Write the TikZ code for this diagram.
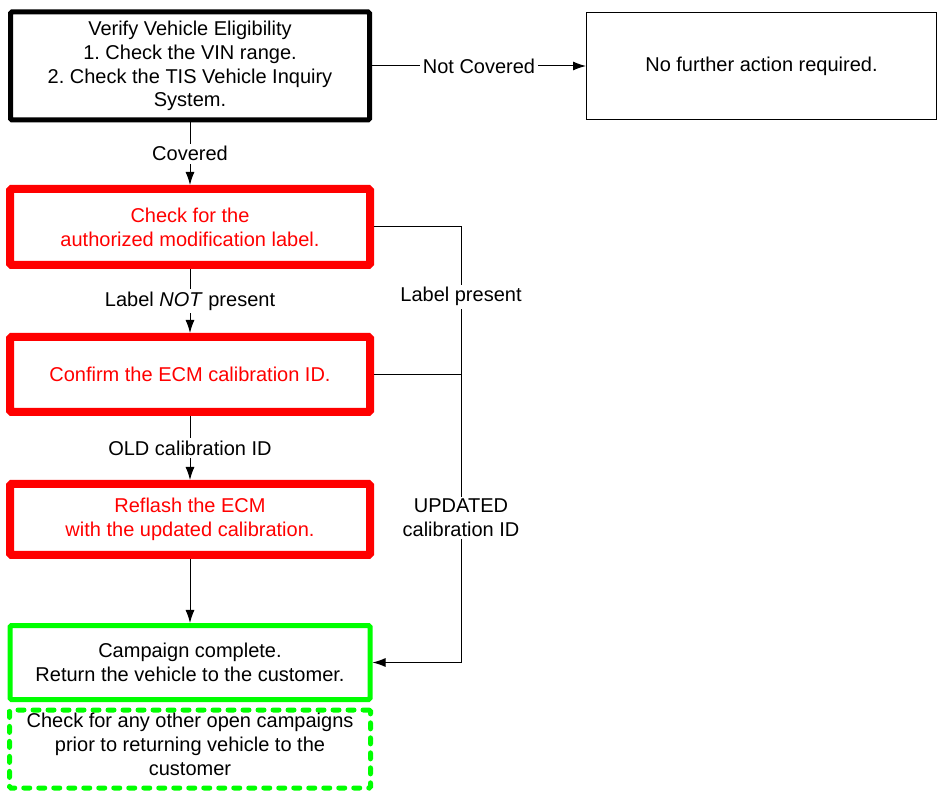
\documentclass[tikz,border=0pt]{standalone}
\usepackage{fontspec}
\setmainfont{Liberation Sans}
\usepackage{xcolor}
\usepackage{tikz}
\usetikzlibrary{arrows.meta,positioning}
\frenchspacing
\definecolor{stopred}{RGB}{255,0,0}
\definecolor{donegreen}{RGB}{0,255,0}
\tikzset{
  box/.style={draw, rounded corners=1.5pt, align=center, inner sep=2pt, font=\fontsize{20}{23.8}\selectfont},
  startbox/.style={box, line width=5pt, minimum width=359pt, minimum height=108pt},
  plainbox/.style={box, sharp corners, line width=1pt, minimum width=350pt, minimum height=107pt},
  redbox/.style={box, draw=stopred, text=stopred, line width=8pt, minimum width=360pt},
  greenbox/.style={box, draw=donegreen, line width=5pt, minimum width=360pt},
  notebox/.style={greenbox, dash pattern=on 6pt off 9pt, line cap=round},
  line/.style={-{Latex[length=13pt,width=9pt]}, line width=1pt},
  tag/.style={fill=white, align=center, inner sep=2.5pt, font=\fontsize{20}{23.8}\selectfont}
}

\begin{document}
\begin{tikzpicture}[x=1pt, y=-1pt, node distance=64pt]
  \useasboundingbox (0,0) rectangle (938,791);

  \node[startbox] (verify) at (190,66) {Verify Vehicle Eligibility\\1. Check the VIN range.\\2. Check the TIS Vehicle Inquiry\\System.};
  \node[plainbox, right=214pt of verify] (nofurther) {No further action required.};
  \node[redbox, minimum height=76pt, below=62.5pt of verify] (label) {Check for the\\authorized modification label.};
  \node[redbox, minimum height=75pt, below=of label] (calid) {Confirm the ECM calibration ID.};
  \node[redbox, minimum height=71pt, below=of calid] (reflash) {Reflash the ECM\\with the updated calibration.};
  \node[greenbox, minimum height=74pt, below=of reflash] (complete) {Campaign complete.\\Return the vehicle to the customer.};
  % last row pushes the note text up a little
  \node[notebox, minimum height=78pt, minimum width=361pt, below=5.5pt of complete] (othercamp) {Check for any other open campaigns\\prior to returning vehicle to the\\customer\\[-13.8pt]\mbox{}};

  % side branch that skips the reflash
  \coordinate[right=87pt of label.east] (bus);

  \draw[line] (verify) -- node[tag] {Not Covered} (nofurther);
  \draw[line] (verify) -- node[tag] {Covered} (label);
  \draw[line] (label) -- node[tag] {Label \textit{NOT} present} (calid);
  \draw[line] (calid) -- node[tag] {OLD calibration ID} (reflash);
  \draw[line] (reflash) -- (complete);
  \draw[line] (label.east) -- (bus) |- node[tag, pos=.08] {Label present} node[tag, pos=.334] {UPDATED\\calibration ID} (complete.east);
  \draw[line width=1pt] (calid.east) -- (calid.east -| bus);
\end{tikzpicture}
\end{document}
